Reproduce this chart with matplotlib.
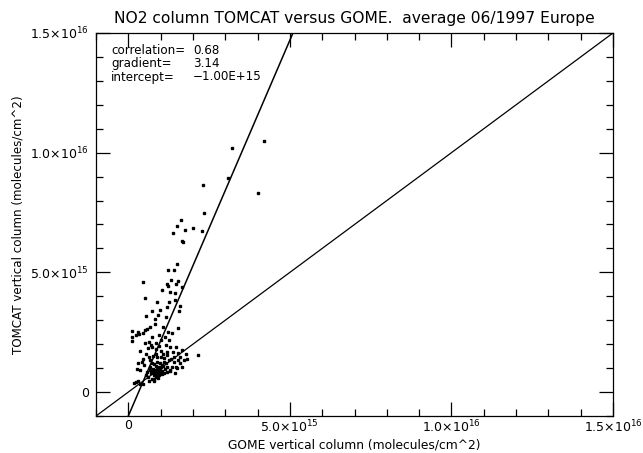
import numpy as np
import matplotlib
matplotlib.use('Agg')
import matplotlib.pyplot as plt
from matplotlib.ticker import MultipleLocator, FixedLocator

# values in units of 1e15 molecules/cm^2
gome_e15 = [
    4.21, 3.20, 3.10, 4.02, 2.32, 2.34, 1.62, 1.50, 1.37, 1.74, 1.99, 2.28, 1.66, 1.68,
    1.50, 1.22, 1.41, 1.31, 1.53, 1.49, 1.21, 1.22, 1.66, 0.44, 1.05, 1.28, 1.43, 0.51,
    1.46, 0.88, 1.25, 1.59, 1.19, 0.99, 0.72, 1.56, 0.54, 0.93, 0.82, 1.17, 0.83, 1.07,
    0.68, 1.53, 0.11, 0.29, 0.34, 0.24, 0.46, 0.52, 0.58, 1.22, 1.34, 0.95, 0.10, 0.10,
    0.74, 1.12, 1.02, 1.26, 0.64, 0.85, 0.51, 0.69, 0.74, 0.61, 0.94, 1.16, 1.30, 0.35,
    0.87, 1.49, 1.65, 1.02, 1.19, 1.37, 1.55, 1.80, 2.15, 1.81, 0.47, 0.30, 0.68, 0.89,
    1.01, 1.09, 1.26, 1.32, 1.40, 0.72, 0.78, 0.85, 0.95, 1.03, 1.14, 1.20, 1.28, 1.36,
    1.47, 1.51, 1.66, 0.27, 0.35, 0.73, 0.80, 0.85, 0.91, 0.99, 1.05, 0.78, 0.87, 0.95,
    1.03, 0.17, 0.23, 0.31, 0.37, 0.47, 0.74, 0.78, 0.85, 1.19, 1.30, 0.89, 0.97, 1.09,
    1.16, 0.68, 0.76, 0.83, 0.89, 0.97, 1.01, 1.07, 1.11, 0.93, 0.80, 0.70, 0.66, 0.58,
    0.54, 0.60, 0.63, 1.42, 1.53, 1.59, 1.20, 1.07, 0.85, 0.76, 0.64, 0.56, 0.42, 0.50,
    1.61, 1.73, 1.46,
]
tomcat_e15 = [
    10.50, 10.20, 8.93, 8.30, 8.65, 7.48, 7.17, 6.92, 6.63, 6.75, 6.84, 6.72, 6.29, 6.27,
    5.37, 5.12, 5.12, 4.68, 4.64, 4.51, 4.51, 4.41, 4.37, 4.58, 4.26, 4.16, 4.12, 3.95,
    3.84, 3.77, 3.77, 3.59, 3.54, 3.43, 3.38, 3.37, 3.17, 3.24, 3.04, 3.12, 2.84, 2.73,
    2.70, 2.66, 2.56, 2.51, 2.42, 2.38, 2.45, 2.58, 2.62, 2.52, 2.45, 2.38, 2.28, 2.14,
    2.31, 2.31, 2.17, 2.17, 2.10, 2.06, 2.03, 1.96, 1.87, 1.82, 1.92, 1.96, 1.87, 1.73,
    1.78, 1.87, 1.75, 1.73, 1.68, 1.68, 1.62, 1.59, 1.53, 1.39, 1.39, 1.20, 1.34, 1.48,
    1.45, 1.41, 1.34, 1.39, 1.48, 1.20, 1.17, 1.09, 1.03, 1.14, 0.97, 1.06, 0.92, 1.03,
    1.06, 0.99, 1.06, 0.97, 0.92, 0.86, 0.81, 0.78, 0.84, 0.78, 0.89, 0.71, 0.67, 0.70,
    0.74, 0.39, 0.42, 0.45, 0.33, 0.33, 0.56, 0.45, 0.61, 0.85, 0.89, 1.27, 1.23, 1.27,
    1.20, 1.06, 0.97, 0.92, 0.95, 0.92, 1.03, 1.09, 0.78, 0.57, 0.53, 0.78, 0.92, 0.85,
    0.71, 0.64, 0.47, 1.27, 1.34, 1.45, 1.55, 1.59, 1.59, 1.50, 1.48, 1.59, 1.27, 1.13,
    1.20, 1.36, 0.78,
]

correlation = 0.68
gradient = 3.14
intercept = -1.00e15

axis_min = -1.0e15
axis_max = 1.5e16
major_ticks = [0, 5.0e15, 1.0e16, 1.5e16]
tick_labels = ['0', r'5.0$\times$10$^{15}$', r'1.0$\times$10$^{16}$', r'1.5$\times$10$^{16}$']

title = 'NO2 column TOMCAT versus GOME.  average 06/1997 Europe'
x_label = 'GOME vertical column (molecules/cm^2)'
y_label = 'TOMCAT vertical column (molecules/cm^2)'

plt.rcParams['font.family'] = 'DejaVu Sans'
plt.rcParams['mathtext.fontset'] = 'dejavusans'

fig = plt.figure(figsize=(6.43, 4.53), dpi=100)
ax = fig.add_axes([96 / 643, 37 / 453, 517 / 643, 383 / 453])

gome = np.array(gome_e15) * 1e15
tomcat = np.array(tomcat_e15) * 1e15
ax.plot(gome, tomcat, linestyle='none', marker='s', markersize=1.8, color='black')

# 1:1 line and regression line
line_x = np.array([axis_min, axis_max])
ax.plot(line_x, line_x, color='black', linewidth=0.9)
ax.plot(line_x, gradient * line_x + intercept, color='black', linewidth=1.1)

ax.set_xlim(axis_min, axis_max)
ax.set_ylim(axis_min, axis_max)

for axis in (ax.xaxis, ax.yaxis):
    axis.set_major_locator(FixedLocator(major_ticks))
    axis.set_minor_locator(MultipleLocator(1.0e15))
ax.set_xticklabels(tick_labels, fontsize=9)
ax.set_yticklabels(tick_labels, fontsize=9)
ax.tick_params(which='both', direction='in', top=True, right=True, width=0.9, pad=5)
ax.tick_params(axis='x', which='major', pad=2)
ax.tick_params(which='major', length=10)
ax.tick_params(which='minor', length=5)
for spine in ax.spines.values():
    spine.set_linewidth(0.9)

ax.set_title(title, fontsize=11.2, pad=7)
ax.set_xlabel(x_label, fontsize=8.8)
ax.xaxis.set_label_coords(0.5, -0.058)
ax.set_ylabel(y_label, fontsize=8.6)
ax.yaxis.set_label_coords(-0.139, 0.5)

stats_names = ['correlation=', 'gradient=', 'intercept=']
stats_values = ['%.2f' % correlation, '%.2f' % gradient, '%.2E' % intercept]
for i in range(3):
    y_pos = 50 + 13.5 * i
    fig.text(111 / 643, 1 - y_pos / 453, stats_names[i], fontsize=8.6, va='center', ha='left')
    fig.text(193 / 643, 1 - y_pos / 453, stats_values[i].replace('-', '\u2212'),
             fontsize=8.6, va='center', ha='left')

plt.savefig('out.png', dpi=100)
